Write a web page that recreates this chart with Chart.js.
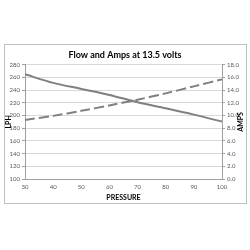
<!DOCTYPE html>
<html><head><meta charset="utf-8">
<script src="https://cdn.jsdelivr.net/npm/chart.js@4.4.0/dist/chart.umd.min.js"></script>
<style>html,body{margin:0;padding:0;background:#fff;}#wrap{width:250px;height:250px;position:relative;}</style>
</head><body><div id="wrap"><canvas id="c" width="250" height="250"></canvas></div>
<script>
const pressure = ['30','40','50','60','70','80','90','100'];
const flowLPH = [265, 251.5, 242, 232.5, 221, 211.5, 201.5, 190.5];
const amps = [9.3, 9.95, 10.75, 11.6, 12.5, 13.5, 14.6, 15.7];
const lphTicks = [100, 280, 20];
const ampTicks = [0, 18, 2];
const rightTitle = 'AMPS';

const font = "Lato, 'Liberation Sans', sans-serif";
const frame = {
  id: 'frame',
  beforeDraw(chart) {
    const ctx = chart.ctx;
    ctx.save();
    ctx.strokeStyle = '#bfbfbf';
    ctx.lineWidth = 1;
    ctx.strokeRect(4.5, 44.5, 242, 159);
    ctx.restore();
  },
  afterDraw(chart) {
    const ctx = chart.ctx, s = chart.scales.y1;
    ctx.save();
    ctx.fillStyle = '#000';
    ctx.font = "bold 7px " + font;
    ctx.textAlign = 'center';
    ctx.textBaseline = 'middle';
    ctx.translate(s.right - 4, (s.top + s.bottom) / 2);
    ctx.rotate(-Math.PI / 2);
    ctx.fillText(rightTitle, 0, 0);
    ctx.restore();
  }
};
new Chart(document.getElementById('c'), {
  type: 'line',
  data: {
    labels: pressure,
    datasets: [
      {label: 'LPH', data: flowLPH, yAxisID: 'y', borderColor: '#808080', borderWidth: 2, pointRadius: 0, tension: 0.3, fill: false},
      {label: 'AMPS', data: amps, yAxisID: 'y1', borderColor: '#808080', borderWidth: 2, borderDash: [10, 4], pointRadius: 0, tension: 0.3, fill: false}
    ]
  },
  options: {
    responsive: false, animation: false,
    layout: {padding: {top: 50, left: 5, right: 5, bottom: 48}},
    plugins: {
      legend: {display: false}, tooltip: {enabled: false},
      title: {display: true, text: 'Flow and Amps at 13.5 volts', color: '#000', font: {family: font, size: 9, weight: 'bold'}, padding: {top: 0, bottom: 4}}
    },
    scales: {
      x: {
        offset: false,
        grid: {display: false, drawTicks: true, tickLength: 3, color: '#a0a0a0'},
        border: {color: '#a0a0a0'},
        ticks: {color: '#595959', font: {family: font, size: 6}, padding: 1, maxRotation: 0},
        title: {display: true, text: 'PRESSURE', color: '#000', font: {family: font, size: 7, weight: 'bold'}, padding: {top: 1, bottom: 0}},
        afterFit(s) { s.height = 23; }
      },
      y: {
        position: 'left', min: lphTicks[0], max: lphTicks[1],
        ticks: {stepSize: lphTicks[2], color: '#595959', font: {family: font, size: 6}, padding: 2},
        grid: {color: '#d9d9d9', tickLength: 3, tickColor: '#a0a0a0'},
        border: {color: '#a0a0a0'},
        title: {display: true, text: 'LPH', color: '#000', font: {family: font, size: 7, weight: 'bold'}, padding: 0},
        afterFit(s) { s.width = 20; }
      },
      y1: {
        position: 'right', min: ampTicks[0], max: ampTicks[1],
        ticks: {stepSize: ampTicks[2], color: '#595959', font: {family: font, size: 6}, padding: 2, callback: v => v.toFixed(1)},
        grid: {drawOnChartArea: false, tickLength: 3, color: '#a0a0a0'},
        border: {color: '#a0a0a0'},
        title: {display: false},
        afterFit(s) { s.width = 23; }
      }
    }
  },
  plugins: [frame]
});
</script></body></html>
